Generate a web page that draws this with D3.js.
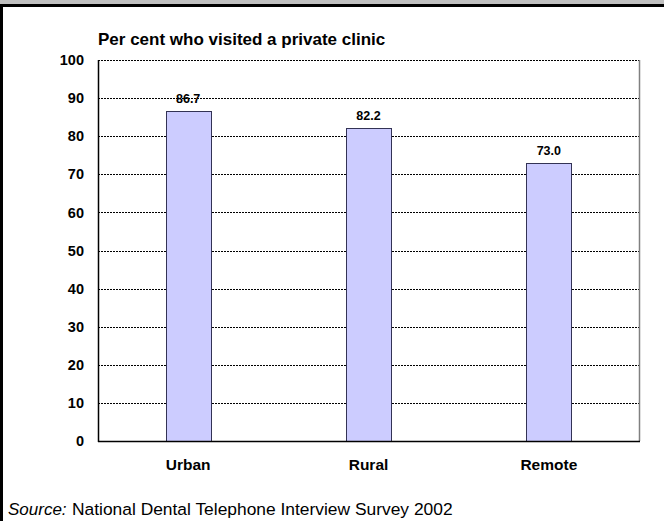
<!DOCTYPE html>
<html><head><meta charset="utf-8">
<script src="https://cdn.jsdelivr.net/npm/d3@7"></script>
<style>body{margin:0;background:#fff}svg{display:block}</style>
</head><body>
<svg id="c" width="664" height="521"></svg>
<script>
const categories = ["Urban", "Rural", "Remote"];
const values = [86.7, 82.2, 73.0];
const yTicks = [0, 10, 20, 30, 40, 50, 60, 70, 80, 90, 100];
const subtitle = "Per cent who visited a private clinic";
const sourceLabel = "Source:";
const sourceText = "National Dental Telephone Interview Survey 2002";

const svg = d3.select("#c");
const font = "Arial, 'Liberation Sans', sans-serif";
const m = {left: 98, right: 639, top: 60, bottom: 441};

// header band and frame
svg.append("rect").attr("x", 0).attr("y", 0).attr("width", 664).attr("height", 5).attr("fill", "#c0c0c0");
svg.append("rect").attr("x", 0).attr("y", 4).attr("width", 664).attr("height", 3).attr("fill", "#000");
svg.append("rect").attr("x", 0).attr("y", 4).attr("width", 3).attr("height", 517).attr("fill", "#000");

const x = d3.scaleBand().domain(categories).range([m.left, m.right]).paddingInner(0).paddingOuter(0);
const y = d3.scaleLinear().domain([0, 100]).range([m.bottom, m.top]);

// gridlines
svg.append("g").selectAll("line").data(yTicks.filter(d => d > 0)).join("line")
  .attr("x1", m.left).attr("x2", m.right)
  .attr("y1", d => Math.round(y(d)) + 0.5).attr("y2", d => Math.round(y(d)) + 0.5)
  .attr("stroke", "#000").attr("stroke-width", 1).attr("stroke-dasharray", "2,1");

// right border
svg.append("line").attr("x1", m.right + 0.5).attr("x2", m.right + 0.5).attr("y1", m.top).attr("y2", m.bottom)
  .attr("stroke", "#808080").attr("stroke-width", 1.5);

// bars
const bw = x.bandwidth() * 0.25;
svg.append("g").selectAll("rect").data(values).join("rect")
  .attr("x", (d, i) => Math.round(x(categories[i]) + x.bandwidth() / 2 - bw / 2) + 0.5)
  .attr("y", d => Math.round(y(d)) + 0.5)
  .attr("width", Math.round(bw))
  .attr("height", d => Math.round(y(0)) - Math.round(y(d)))
  .attr("fill", "#ccccff").attr("stroke", "#333355").attr("stroke-width", 1);

// value labels
svg.append("g").selectAll("text").data(values).join("text")
  .attr("x", (d, i) => x(categories[i]) + x.bandwidth() / 2)
  .attr("y", d => y(d) - 8)
  .attr("text-anchor", "middle").attr("font-family", font).attr("font-weight", "bold").attr("font-size", 12.5)
  .text(d => d.toFixed(1));

// axes
const yAxis = d3.axisLeft(y).tickValues(yTicks).tickSize(0).tickPadding(14).tickFormat(d3.format("d"));
const ga = svg.append("g").attr("transform", `translate(${m.left},0)`).call(yAxis);
ga.select(".domain").remove();
ga.selectAll("text").attr("font-family", font).attr("font-weight", "bold").attr("font-size", 14.5).attr("fill", "#000");

const xAxis = d3.axisBottom(x).tickSize(0).tickPadding(18);
const gx = svg.append("g").attr("transform", `translate(0,${m.bottom})`).call(xAxis);
gx.select(".domain").remove();
gx.selectAll("text").attr("font-family", font).attr("font-weight", "bold").attr("font-size", 15.5).attr("fill", "#000");

svg.append("line").attr("x1", m.left + 0.5).attr("x2", m.left + 0.5).attr("y1", m.top).attr("y2", m.bottom + 1)
  .attr("stroke", "#000").attr("stroke-width", 1.5);
svg.append("line").attr("x1", m.left).attr("x2", m.right + 1).attr("y1", m.bottom + 0.5).attr("y2", m.bottom + 0.5)
  .attr("stroke", "#000").attr("stroke-width", 1.5);

// subtitle
svg.append("text").attr("x", m.left).attr("y", 45).attr("font-family", font).attr("font-weight", "bold")
  .attr("font-size", 17).text(subtitle);

// source
svg.append("text").attr("x", 8).attr("y", 515).attr("font-family", font).attr("font-style", "italic")
  .attr("font-size", 17).text(sourceLabel);
svg.append("text").attr("x", 72).attr("y", 515).attr("font-family", font)
  .attr("font-size", 17.4).text(sourceText);
</script>
</body></html>
